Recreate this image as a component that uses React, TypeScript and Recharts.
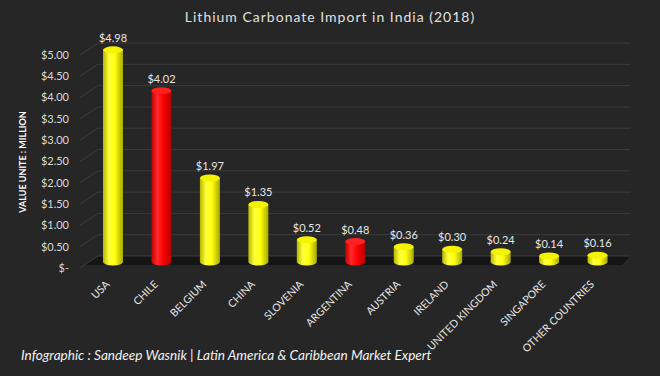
import React from "react";
import { BarChart, Bar, XAxis, YAxis, CartesianGrid, LabelList, Cell } from "recharts";

const categories = ["USA", "CHILE", "BELGIUM", "CHINA", "SLOVENIA", "ARGENTINA", "AUSTRIA", "IRELAND", "UNITED KINGDOM", "SINGAPORE", "OTHER COUNTRIES"];
const values = [4.98, 4.02, 1.97, 1.35, 0.52, 0.48, 0.36, 0.30, 0.24, 0.14, 0.16];
const highlighted = ["CHILE", "ARGENTINA"];
const yTicks = [0, 0.5, 1, 1.5, 2, 2.5, 3, 3.5, 4, 4.5, 5];

const data = categories.map((c, i) => ({ name: c, value: values[i], hl: highlighted.includes(c) }));

const BG = "#262626";
const FONT = "Lato, 'Open Sans', sans-serif";

const fmt = (v: number) => (v === 0 ? "$-" : "$" + v.toFixed(2));

const Cylinder = (props: any) => {
  const { x, y, width, height, payload } = props;
  if (height == null || width == null) return null;
  const hl = payload && payload.hl;
  const cx = x + width / 2;
  const rx = width / 2;
  const ry = 3.5;
  const bottom = y + height;
  const grad = hl ? "url(#redGrad)" : "url(#yelGrad)";
  const top = hl ? "#ff2020" : "#f4f400";
  return (
    <g>
      <path
        d={`M${x},${y} L${x},${bottom} A${rx},${ry} 0 0 0 ${x + width},${bottom} L${x + width},${y} Z`}
        fill={grad}
      />
      <ellipse cx={cx} cy={y} rx={rx} ry={ry} fill={top} />
    </g>
  );
};

const YTick = (props: any) => {
  const { y, payload } = props;
  return (
    <g>
      <line x1={80} y1={y + 6} x2={98} y2={y - 6} stroke="#3c3c3c" strokeWidth={1} />
      <text x={69} y={y + 6} dy="0.35em" textAnchor="end" fill="#d9d9d9" fontSize={11} fontFamily={FONT}>
        {fmt(payload.value)}
      </text>
    </g>
  );
};

const XTick = (props: any) => {
  const { x, y, payload } = props;
  return (
    <text
      transform={`translate(${x - 3},${y + 15}) rotate(-45)`}
      textAnchor="end"
      fill="#e6e6e6"
      fontSize={10.5}
      fontFamily={FONT}
    >
      {payload.value}
    </text>
  );
};

const GridLine = (props: any) => {
  const { x1, x2, y1, index } = props;
  const yy = y1 - 6;
  if (index === 0 || Math.abs(y1 - 262) < 1) {
    return (
      <g>
        <polygon points={`${x1 + 9},${yy} ${x2 + 8},${yy} ${x2},${y1 + 3} ${x1 - 5},${y1 + 3}`} fill="#151515" />
        <line x1={x1 + 9} y1={yy} x2={x2 + 8} y2={yy} stroke="#3a3a3a" strokeWidth={1} />
      </g>
    );
  }
  return <line x1={x1 + 9} y1={yy} x2={x2 + 8} y2={yy} stroke="#3a3a3a" strokeWidth={1} />;
};

export default function App() {
  return (
    <div style={{ position: "fixed", left: 0, top: 0, width: 660, height: 376, background: BG, fontFamily: FONT }}>
      <div
        style={{
          position: "absolute",
          top: 8,
          left: 0,
          width: 660,
          textAlign: "center",
          color: "#e0e0e0",
          fontSize: 14,
          letterSpacing: 1,
          fontFamily: FONT,
        }}
      >
        Lithium Carbonate Import in India (2018)
      </div>
      <div
        style={{
          position: "absolute",
          left: 22,
          top: 162,
          transform: "translate(-50%, -50%) rotate(-90deg)",
          color: "#ffffff",
          fontSize: 9,
          fontWeight: 700,
          whiteSpace: "nowrap",
          fontFamily: FONT,
        }}
      >
        VALUE UNITE : MILLION
      </div>
      <div
        style={{
          position: "absolute",
          left: 21,
          top: 347,
          color: "#f2f2f2",
          fontSize: 13.6,
          fontStyle: "italic",
          fontFamily: FONT,
          whiteSpace: "nowrap",
        }}
      >
        Infographic : Sandeep Wasnik | Latin America &amp; Caribbean Market Expert
      </div>
      <svg width={0} height={0} style={{ position: "absolute" }}>
        <defs>
          <linearGradient id="yelGrad" x1="0" y1="0" x2="1" y2="0">
            <stop offset="0%" stopColor="#b5b500" />
            <stop offset="30%" stopColor="#ffff3a" />
            <stop offset="60%" stopColor="#ffff10" />
            <stop offset="100%" stopColor="#a8a800" />
          </linearGradient>
          <linearGradient id="redGrad" x1="0" y1="0" x2="1" y2="0">
            <stop offset="0%" stopColor="#c00000" />
            <stop offset="30%" stopColor="#ff2a2a" />
            <stop offset="60%" stopColor="#ff0000" />
            <stop offset="100%" stopColor="#b00000" />
          </linearGradient>
        </defs>
      </svg>
      <div style={{ position: "absolute", left: 0, top: 0 }}>
        <BarChart
          width={660}
          height={376}
          data={data}
          margin={{ top: 49, right: 38, left: 0, bottom: 0 }}
          barSize={20}
        >
          <CartesianGrid vertical={false} horizontal={GridLine as any} />
          <XAxis
            dataKey="name"
            axisLine={false}
            tickLine={false}
            interval={0}
            height={114}
            tick={<XTick />}
          />
          <YAxis
            domain={[0, 5]}
            ticks={yTicks}
            width={89}
            axisLine={false}
            tickLine={false}
            tick={<YTick />}
            interval={0}
          />
          <Bar dataKey="value" isAnimationActive={false} shape={<Cylinder />}>
            {data.map((d, i) => (
              <Cell key={i} fill={d.hl ? "#ff0000" : "#ffff00"} />
            ))}
            <LabelList
              dataKey="value"
              position="top"
              offset={8}
              formatter={(v: any) => "$" + Number(v).toFixed(2)}
              fill="#e6e6e6"
              fontSize={11}
              fontFamily={FONT}
            />
          </Bar>
        </BarChart>
      </div>
    </div>
  );
}
